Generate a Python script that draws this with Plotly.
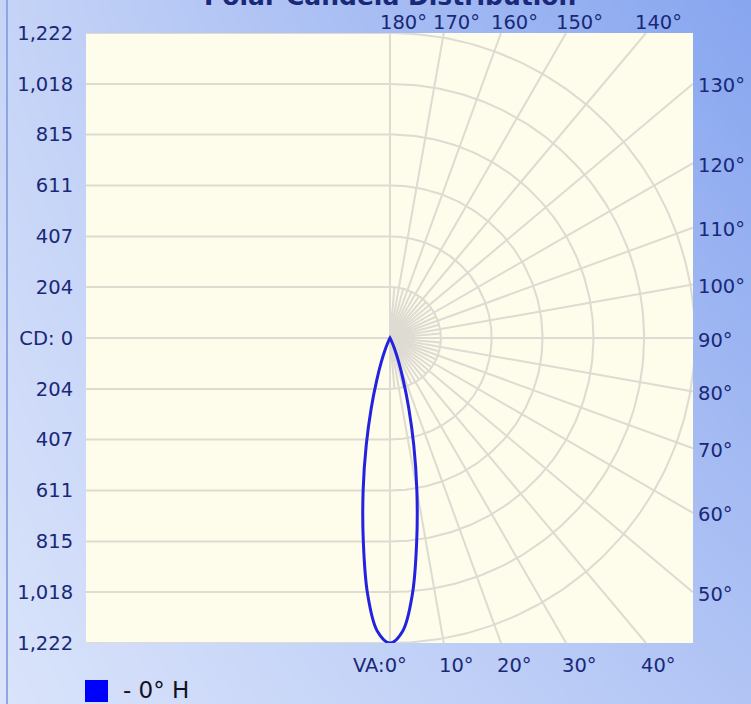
import base64, struct, zlib
import numpy as np
import plotly.graph_objects as go

# ---------------- data ----------------
vertical_angles = [0, 2.5, 5, 7.5, 10, 12.5, 15, 17.5, 20, 22.5, 25, 27.5, 30,
                   35, 40, 45, 50, 55, 60, 65, 70, 75, 80, 85, 90,
                   100, 110, 120, 130, 140, 150, 160, 170, 180]
candela_0H = [1222, 1175, 1030, 820, 620, 440, 290, 175, 100, 50, 22, 8, 3,
              0, 0, 0, 0, 0, 0, 0, 0, 0, 0, 0, 0,
              0, 0, 0, 0, 0, 0, 0, 0, 0]
series_name = "- 0° H"

cd_tick_values = [204, 407, 611, 815, 1018, 1222]
cd_tick_labels = ["204", "407", "611", "815", "1,018", "1,222"]
cd_zero_label = "CD: 0"

grid_angles = [0, 10, 20, 30, 40, 50, 60, 70, 80, 90, 100, 110, 120, 130, 140, 150, 160, 170, 180]
angle_labels = ["VA:0°", "10°", "20°", "30°", "40°", "50°", "60°", "70°", "80°", "90°",
                "100°", "110°", "120°", "130°", "140°", "150°", "160°", "170°", "180°"]
inner_angles = [5, 15, 25, 35, 45, 55, 65, 75, 85, 95, 105, 115, 125, 135, 145, 155, 165, 175]

title_text = "Polar Candela Distribution"

# ---------------- layout geometry ----------------
W, H = 751, 704
L, R, T, B = 86, 693, 33, 643
CX = 390
CY = (T + B) / 2
CD_MAX = cd_tick_values[-1]
ppc = (B - T) / 2 / CD_MAX          # pixels per candela
x_min = (L - CX) / ppc
x_max = (R - CX) / ppc
pw, ph = R - L, B - T

def px_x(px):   # pixel x -> paper x
    return (px - L) / pw

def px_y(py):   # pixel y -> paper y
    return 1 - (py - T) / ph

NAVY = "#1a2878"
FONT = "DejaVu Sans"

# ---------------- background gradient image ----------------
def gradient_uri(w, h):
    tl = np.array([198, 212, 247.0]); tr = np.array([136, 166, 240.0])
    bl = np.array([218, 228, 251.0]); br = np.array([178, 197, 245.0])
    u = np.linspace(0, 1, w)[None, :, None]
    v = np.linspace(0, 1, h)[:, None, None]
    img = (tl * (1 - u) * (1 - v) + tr * u * (1 - v) + bl * (1 - u) * v + br * u * v)
    img = np.clip(img, 0, 255).astype(np.uint8)
    raw = b"".join(b"\x00" + img[y].tobytes() for y in range(h))

    def chunk(t, d):
        return struct.pack(">I", len(d)) + t + d + struct.pack(">I", zlib.crc32(t + d) & 0xffffffff)

    png = (b"\x89PNG\r\n\x1a\n" + chunk(b"IHDR", struct.pack(">IIBBBBB", w, h, 8, 2, 0, 0, 0))
           + chunk(b"IDAT", zlib.compress(raw, 9)) + chunk(b"IEND", b""))
    return "data:image/png;base64," + base64.b64encode(png).decode()

fig = go.Figure()

# ---------------- grid ----------------
gx, gy = [], []
for v in [0] + cd_tick_values + [-c for c in cd_tick_values]:
    gx += [x_min, 0, None]; gy += [v, v, None]
t = np.linspace(0, np.pi, 181)
for r in cd_tick_values:
    gx += list(r * np.sin(t)) + [None]; gy += list(-r * np.cos(t)) + [None]
for a in grid_angles:
    th = np.radians(a)
    s, c = np.sin(th), -np.cos(th)
    lim = min(x_max / s if s > 1e-9 else 1e9, CD_MAX / abs(c) if abs(c) > 1e-9 else 1e9)
    gx += [0, s * lim, None]; gy += [0, c * lim, None]
for a in inner_angles:
    th = np.radians(a)
    r = cd_tick_values[0]
    gx += [0, r * np.sin(th), None]; gy += [0, -r * np.cos(th), None]

fig.add_trace(go.Scatter(x=gx, y=gy, mode="lines", line=dict(color="#dddbd2", width=2),
                         hoverinfo="skip", showlegend=False))

# ---------------- candela curve ----------------
th = np.radians(vertical_angles)
cd = np.array(candela_0H, dtype=float)
xr = cd * np.sin(th); yr = -cd * np.cos(th)
cx = np.concatenate([xr, -xr[::-1]])
cy = np.concatenate([yr, yr[::-1]])
fig.add_trace(go.Scatter(x=cx, y=cy, mode="lines",
                         line=dict(color="#2222e0", width=3, shape="spline", smoothing=1.0),
                         name=series_name, showlegend=False, hoverinfo="skip"))

# ---------------- angle labels ----------------
ann = []
for a, lab in zip(grid_angles, angle_labels):
    thr = np.radians(a)
    s, c = np.sin(thr), -np.cos(thr)
    if abs(c) > 1e-9 and (s < 1e-9 or CD_MAX / abs(c) * s <= x_max):
        xd = CD_MAX * s / abs(c)
        if c < 0:  # bottom
            if a == 0:
                ann.append(dict(x=xd + 19 / ppc, y=px_y(665), xref="x", yref="paper", text=lab,
                                xanchor="right", yanchor="middle", showarrow=False))
            else:
                ann.append(dict(x=xd + 13 / ppc, y=px_y(665), xref="x", yref="paper", text=lab,
                                xanchor="center", yanchor="middle", showarrow=False))
        else:      # top
            ann.append(dict(x=xd + 13 / ppc, y=px_y(22), xref="x", yref="paper", text=lab,
                            xanchor="center", yanchor="middle", showarrow=False))
    else:          # right edge
        yd = x_max * c / s
        ann.append(dict(x=px_x(696), y=yd - 2 / ppc, xref="paper", yref="y", text=lab,
                        xanchor="left", yanchor="middle", showarrow=False))
for a_ in ann:
    a_["font"] = dict(family=FONT, size=19.5, color=NAVY)

ann.append(dict(x=0.5, y=px_y(13), xref="paper", yref="paper", text="<b>" + title_text + "</b>",
                xanchor="center", yanchor="bottom", showarrow=False,
                font=dict(family=FONT, size=25, color=NAVY)))
ann.append(dict(x=px_x(121), y=px_y(690), xref="paper", yref="paper", text=series_name,
                xanchor="left", yanchor="middle", showarrow=False,
                font=dict(family=FONT, size=23, color="#111122")))

shapes = [
    dict(type="rect", xref="paper", yref="paper", x0=0, x1=1, y0=0, y1=1,
         fillcolor="#fefcea", line=dict(width=0), layer="below"),
    dict(type="line", xref="paper", yref="paper", x0=px_x(7), x1=px_x(7), y0=px_y(0), y1=px_y(H),
         line=dict(color="#8ea6e2", width=2), layer="below"),
    dict(type="rect", xref="paper", yref="paper", x0=px_x(85), x1=px_x(108), y0=px_y(680), y1=px_y(702),
         fillcolor="#0000ff", line=dict(width=0)),
]

ytickvals = cd_tick_values[::-1] + [0] + [-c for c in cd_tick_values]
yticktext = cd_tick_labels[::-1] + [cd_zero_label] + cd_tick_labels

fig.update_layout(
    width=W, height=H,
    margin=dict(l=L, r=W - R, t=T, b=H - B, pad=0),
    paper_bgcolor="#c4d3f6", plot_bgcolor="rgba(0,0,0,0)",
    xaxis=dict(range=[x_min, x_max], visible=False, fixedrange=True),
    yaxis=dict(range=[-CD_MAX, CD_MAX], tickvals=ytickvals, ticktext=yticktext,
               showgrid=False, zeroline=False, showline=False, ticks="outside", ticklen=8,
               tickcolor="rgba(0,0,0,0)", tickfont=dict(family=FONT, size=19.5, color=NAVY),
               fixedrange=True),
    images=[dict(source=gradient_uri(188, 176), xref="paper", yref="paper",
                 x=px_x(0), y=px_y(0), sizex=W / pw, sizey=H / ph,
                 xanchor="left", yanchor="top", sizing="stretch", layer="below")],
    shapes=shapes, annotations=ann, showlegend=False,
)

fig.write_html("out.html", config={"displayModeBar": False},
               post_script="document.body.style.margin='0';document.body.style.overflow='hidden';")
